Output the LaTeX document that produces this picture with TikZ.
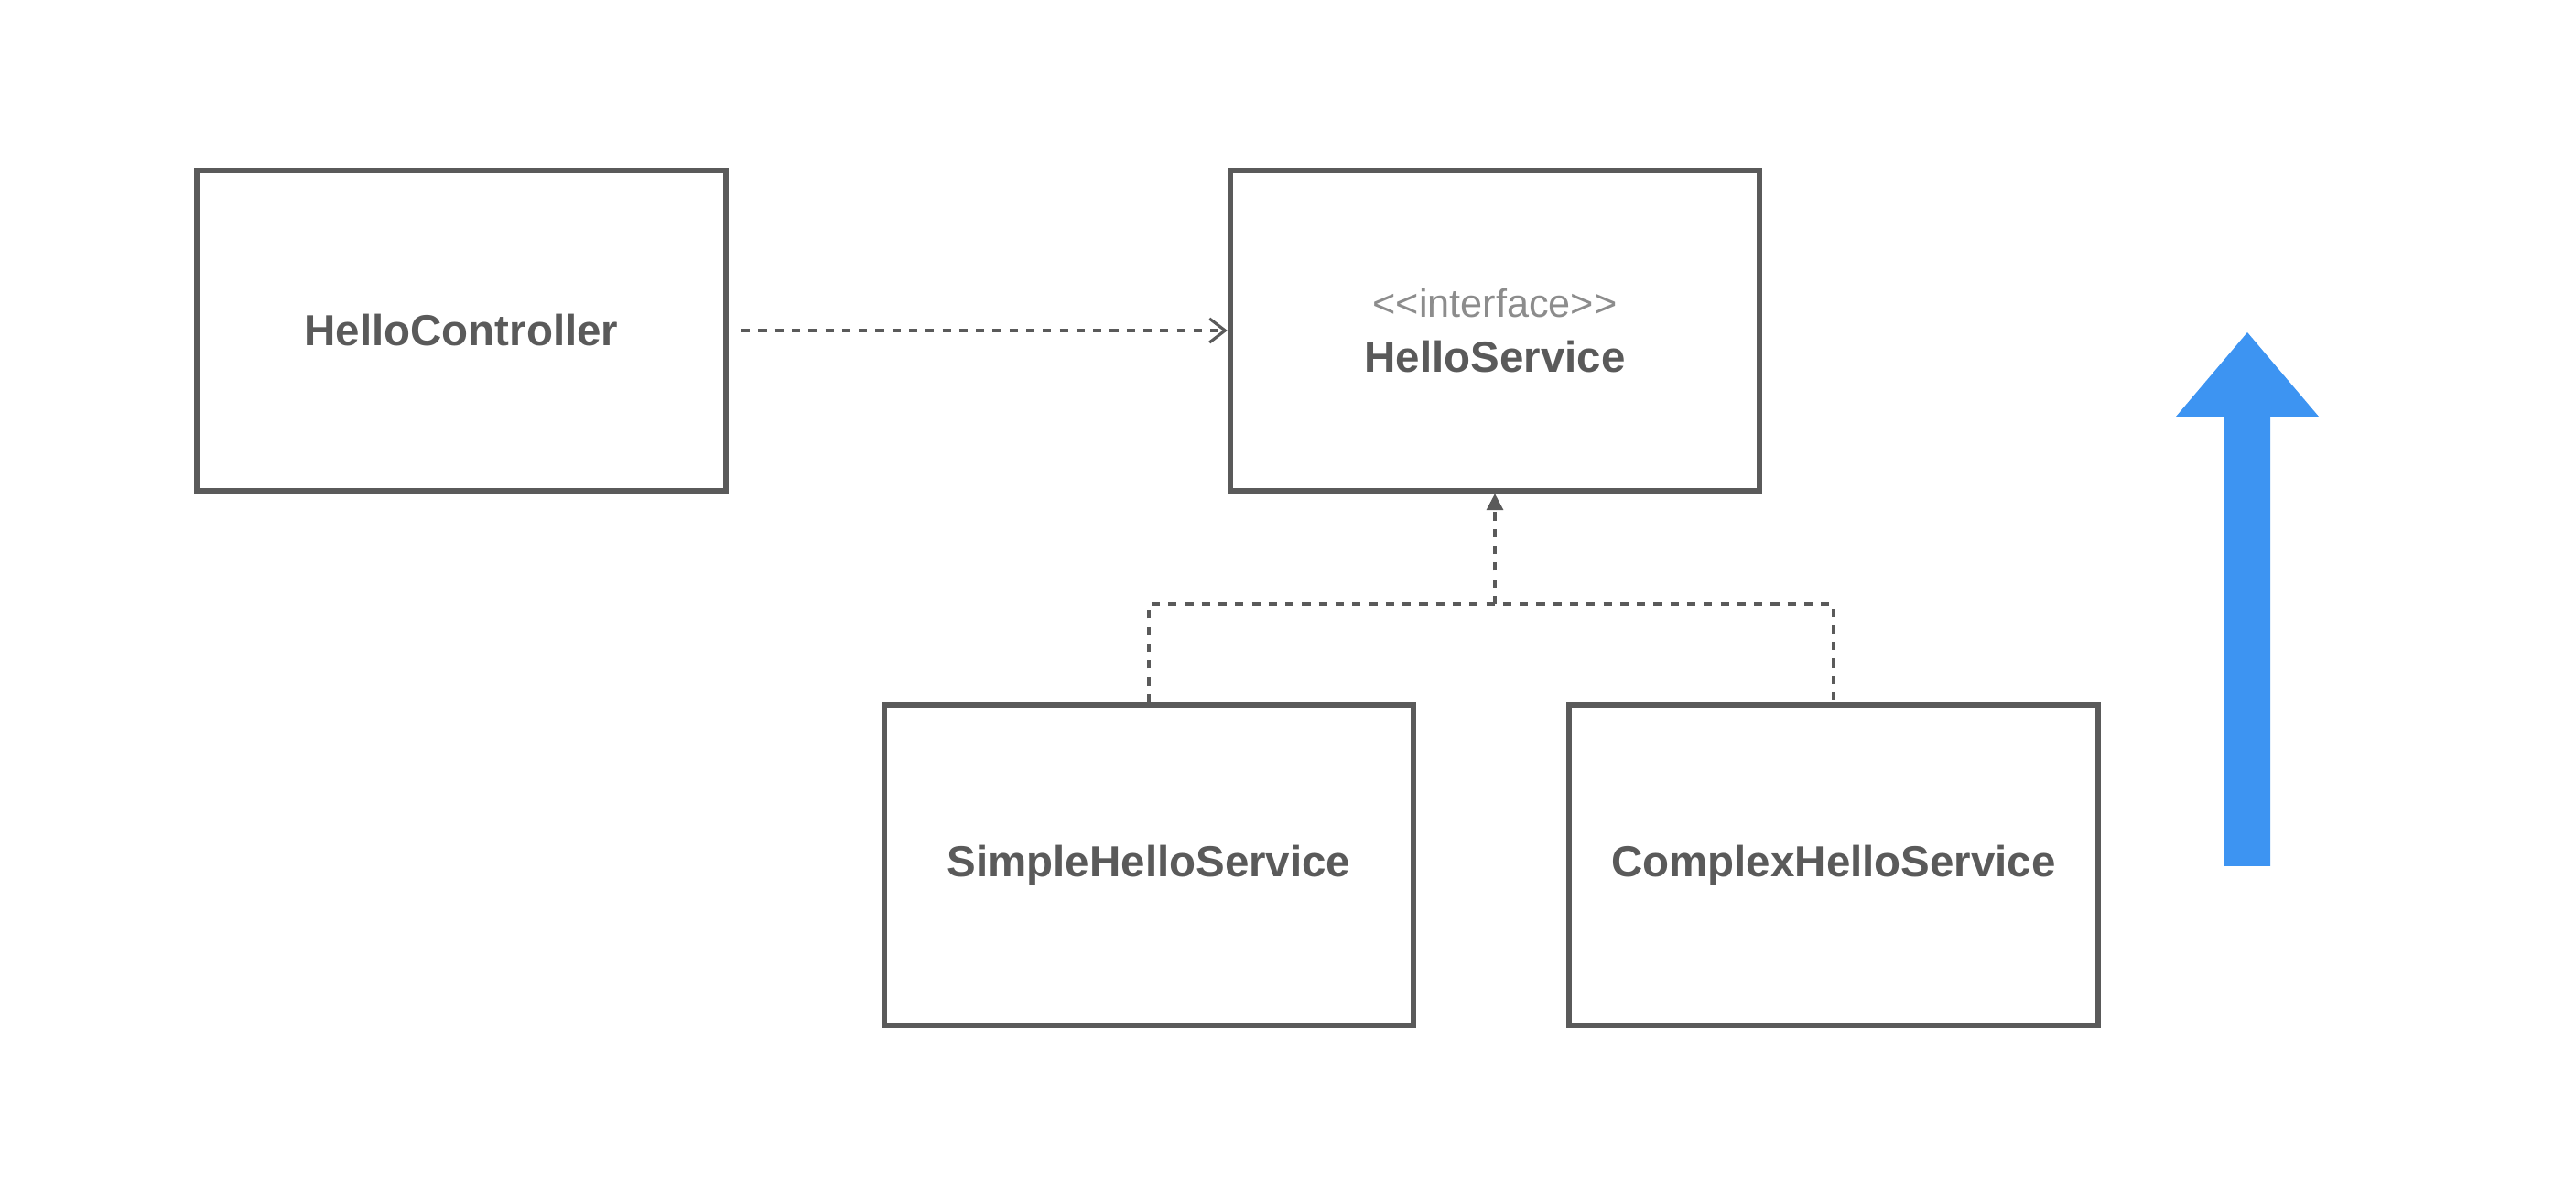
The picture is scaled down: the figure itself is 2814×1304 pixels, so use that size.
\documentclass[tikz,border=0pt]{standalone}
\usepackage{fontspec}
\setmainfont{Liberation Sans}
\usetikzlibrary{arrows.meta}
\definecolor{boxgray}{HTML}{5A5A5A}
\definecolor{stereogray}{HTML}{8C8C8C}
\definecolor{upblue}{HTML}{3D94F2}
\begin{document}
\begin{tikzpicture}[x=0.01cm,y=-0.01cm,
    cls/.style={draw=boxgray,line width=1.7pt,minimum width=5.78cm,minimum height=3.5cm,
      text=boxgray,font=\fontsize{13.5}{16}\selectfont\bfseries,align=center,inner sep=0pt},
    dep/.style={draw=boxgray,line width=0.9pt,dash pattern=on 2.6pt off 2.6pt}]
    \useasboundingbox (0,0) rectangle (2814,1304);

    \node[cls] (ctrl) at (504, 361) {HelloController};
    \node[cls] (svc) at (1633, 361) {{\fontsize{12.3}{14}\selectfont\mdseries\color{stereogray}{<}{<}interface{>}{>}}\\[1pt]HelloService};
    \node[cls] (simple) at (1255, 945) {SimpleHelloService};
    \node[cls] (complex) at (2003, 945) {ComplexHelloService};
    \coordinate (join) at (1633, 660);

    \draw[dep,-{Straight Barb[length=0.17cm,width=0.26cm,line width=0.9pt]},shorten <=0.14cm] (ctrl) -- (svc);
    \draw[dep,-{Triangle[length=0.18cm,width=0.18cm]}] (join) -- (svc.south);
    \draw[dep] (simple.north) |- (join) -| (complex.north);

    % big upward arrow
    \fill[upblue] (2430,946) -- (2430,455) -- (2377,455) -- (2455,363) -- (2533,455)
        -- (2480,455) -- (2480,946) -- cycle;
\end{tikzpicture}
\end{document}
